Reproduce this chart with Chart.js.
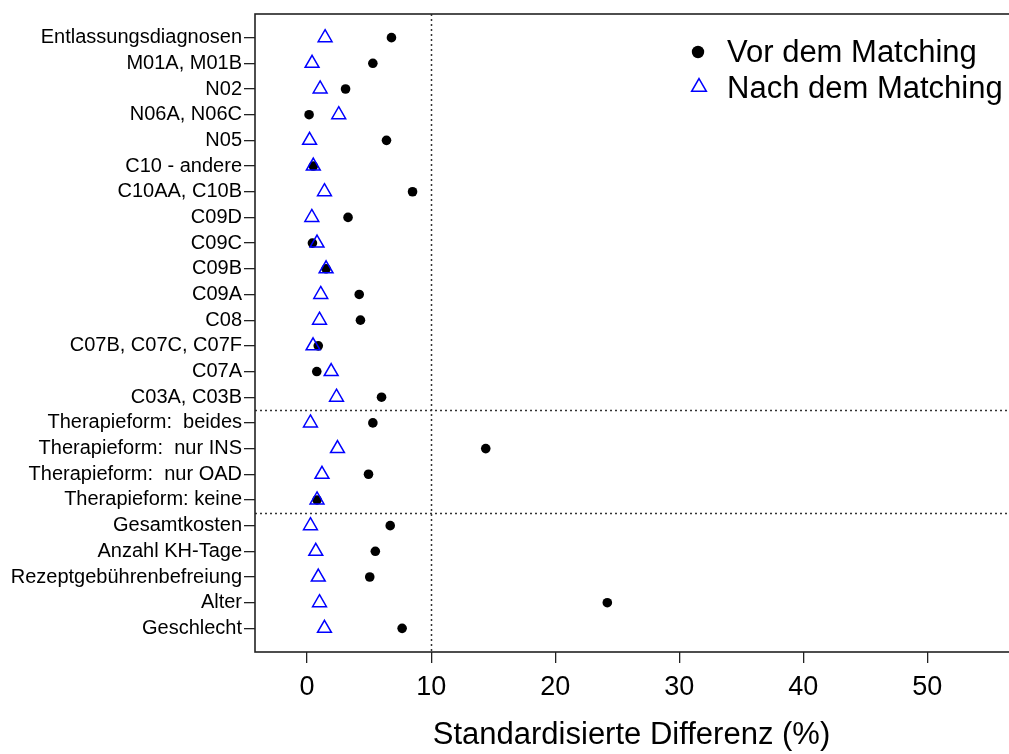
<!DOCTYPE html>
<html>
<head>
<meta charset="utf-8">
<script src="https://cdn.jsdelivr.net/npm/chart.js@4.4.0/dist/chart.umd.min.js"></script>
<style>
html,body{margin:0;padding:0;background:#fff;}
#wrap{width:1009px;height:754px;}
</style>
</head>
<body>
<div id="wrap"><canvas id="c" width="1009" height="754"></canvas></div>
<script>
// Categories, top to bottom
const categories = [
  "Entlassungsdiagnosen","M01A, M01B","N02","N06A, N06C","N05","C10 - andere",
  "C10AA, C10B","C09D","C09C","C09B","C09A","C08","C07B, C07C, C07F","C07A",
  "C03A, C03B","Therapieform:  beides","Therapieform:  nur INS","Therapieform:  nur OAD",
  "Therapieform: keine","Gesamtkosten","Anzahl KH-Tage","Rezeptgebührenbefreiung",
  "Alter","Geschlecht"
];
// Standardisierte Differenz (%) before matching
const vorValues = [6.8,5.3,3.1,0.16,6.4,0.5,8.5,3.3,0.43,1.53,4.2,4.3,0.9,0.78,6.0,
  5.3,14.4,4.95,0.8,6.7,5.5,5.05,24.2,7.66];
// after matching
const nachValues = [1.45,0.4,1.05,2.55,0.2,0.5,1.4,0.38,0.8,1.53,1.1,1.0,0.48,1.94,2.37,
  0.27,2.45,1.2,0.8,0.27,0.7,0.9,1.0,1.4];
const xTicks = [0,10,20,30,40,50];
const refX = [10];          // vertical dotted reference line
const refY = [5.5, 9.5];    // horizontal dotted separators (in y-position units)
const legendLabels = ["Vor dem Matching","Nach dem Matching"];

const n = categories.length;
const yPos = categories.map((_, i) => n - i);
const FONT = "'Liberation Sans', Arial, sans-serif";

const refPlugin = {
  id: 'refs',
  beforeDatasetsDraw(chart) {
    const {ctx, chartArea: a, scales: {x, y}} = chart;
    ctx.save();
    ctx.strokeStyle = '#333';
    ctx.lineWidth = 1.5;
    ctx.setLineDash([2, 3]);
    refX.forEach(v => {
      const px = Math.round(x.getPixelForValue(v)) + 0.5;
      ctx.beginPath(); ctx.moveTo(px, a.top); ctx.lineTo(px, a.bottom); ctx.stroke();
    });
    refY.forEach(v => {
      const py = Math.round(y.getPixelForValue(v)) + 0.5;
      ctx.beginPath(); ctx.moveTo(a.left, py); ctx.lineTo(a.right, py); ctx.stroke();
    });
    ctx.restore();
  },
  afterDraw(chart) {
    const {ctx, chartArea: a} = chart;
    ctx.save();
    ctx.strokeStyle = '#222';
    ctx.lineWidth = 1.6;
    ctx.strokeRect(a.left, a.top, a.right - a.left + 3, a.bottom - a.top);
    // legend
    ctx.font = "31px " + FONT;
    ctx.textBaseline = 'middle';
    ctx.textAlign = 'left';
    ctx.fillStyle = '#000';
    // item 1: filled circle
    ctx.beginPath(); ctx.arc(698, 52, 6.2, 0, Math.PI * 2); ctx.fill();
    ctx.fillText(legendLabels[0], 727, 53);
    // item 2: open triangle
    ctx.strokeStyle = '#0000ff';
    ctx.lineWidth = 1.5;
    const r = 8.5, cx = 699, cy = 87;
    ctx.beginPath();
    ctx.moveTo(cx, cy - r);
    ctx.lineTo(cx + r * Math.sin(2 * Math.PI / 3), cy - r * Math.cos(2 * Math.PI / 3));
    ctx.lineTo(cx + r * Math.sin(4 * Math.PI / 3), cy - r * Math.cos(4 * Math.PI / 3));
    ctx.closePath(); ctx.stroke();
    ctx.fillStyle = '#000';
    ctx.fillText(legendLabels[1], 727, 89);
    ctx.restore();
  }
};

new Chart(document.getElementById('c'), {
  type: 'scatter',
  data: {
    datasets: [
      {
        label: legendLabels[0],
        data: vorValues.map((v, i) => ({x: v, y: yPos[i]})),
        pointStyle: 'circle',
        pointRadius: 4.8,
        backgroundColor: '#000',
        borderColor: '#000',
        borderWidth: 0,
        order: 1
      },
      {
        label: legendLabels[1],
        data: nachValues.map((v, i) => ({x: v, y: yPos[i]})),
        pointStyle: 'triangle',
        pointRadius: 8,
        backgroundColor: 'rgba(0,0,0,0)',
        borderColor: '#0000ff',
        borderWidth: 1.5,
        order: 0
      }
    ]
  },
  options: {
    responsive: false,
    animation: false,
    events: [],
    layout: {autoPadding: false, padding: {top: 13, right: 1, left: 0, bottom: 0}},
    plugins: {legend: {display: false}, tooltip: {enabled: false}},
    scales: {
      x: {
        type: 'linear',
        min: -4.2, max: 56.5,
        afterBuildTicks: s => { s.ticks = xTicks.map(v => ({value: v})); },
        afterFit: s => { s.height = 102; },
        grid: {display: true, drawOnChartArea: false, drawTicks: true, tickLength: 11, color: '#222', lineWidth: 1.3},
        border: {display: false},
        ticks: {color: '#000', font: {family: FONT, size: 27}, padding: 8, maxRotation: 0},
        title: {display: true, text: 'Standardisierte Differenz (%)', color: '#000',
                font: {family: FONT, size: 31}, padding: {top: 0, bottom: 0}}
      },
      y: {
        type: 'linear',
        min: 0.08, max: 24.92,
        afterBuildTicks: s => { s.ticks = yPos.map(v => ({value: v})); },
        afterFit: s => { s.width = 255; },
        grid: {display: true, drawOnChartArea: false, drawTicks: true, tickLength: 11, color: '#222', lineWidth: 1.3},
        border: {display: false},
        ticks: {
          color: '#000', font: {family: FONT, size: 20}, padding: 2, autoSkip: false,
          callback: (v) => categories[n - v]
        }
      }
    }
  },
  plugins: [refPlugin]
});
</script>
</body>
</html>
